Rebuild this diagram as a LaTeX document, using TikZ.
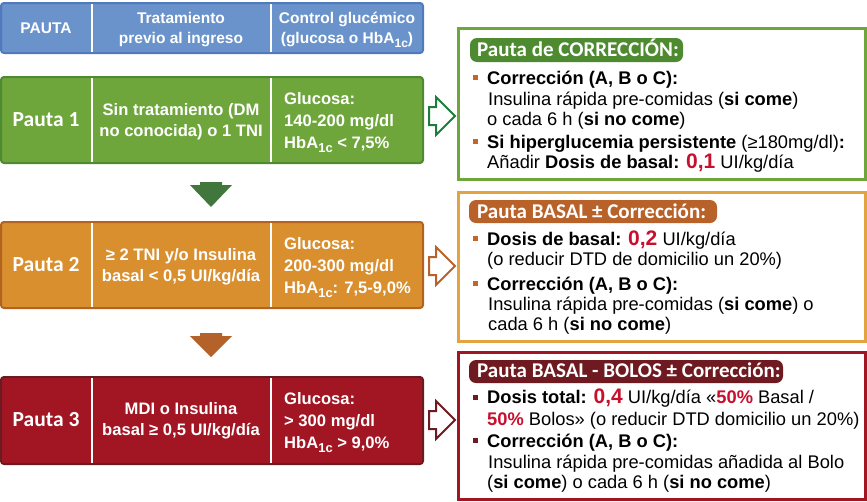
\documentclass[tikz,border=0pt]{standalone}
\usepackage{fontspec}
\usepackage{graphicx}
\setmainfont{Liberation Sans}
\newfontfamily\calfont{Carlito}
\definecolor{hdrfill}{HTML}{6A93CB}
\definecolor{hdrline}{HTML}{4F7BBE}
\definecolor{gfill}{HTML}{6EA63C}
\definecolor{gline}{HTML}{4E8A30}
\definecolor{ofill}{HTML}{D98F2E}
\definecolor{oline}{HTML}{B3631F}
\definecolor{rfill}{HTML}{A21523}
\definecolor{rline}{HTML}{6B1A1F}
\definecolor{garr}{HTML}{41773C}
\definecolor{oarr}{HTML}{B4612A}
\definecolor{ghol}{HTML}{1D7D3C}
\definecolor{ohol}{HTML}{B8622A}
\definecolor{rhol}{HTML}{6E1A20}
\definecolor{rb2}{HTML}{E2A43F}
\definecolor{pillg}{HTML}{4E8A30}
\definecolor{pillo}{HTML}{B8622A}
\definecolor{pillr}{HTML}{6E1A20}
\definecolor{bulo}{HTML}{C4652A}
\definecolor{bulr}{HTML}{6E1A20}
\definecolor{numred}{HTML}{C8102E}
\newcommand{\sbs}[1]{\raisebox{-0.3em}{\scalebox{0.78}{#1}}}
\newcommand{\rd}[1]{\textcolor{numred}{\textbf{#1}}}
\newcommand{\bignum}[1]{{\fontsize{21}{21}\selectfont\bfseries\textcolor{numred}{#1}}}
\begin{document}
\begin{tikzpicture}[x=1pt,y=-1pt,
  lbox/.style={line width=2pt, rounded corners=3pt, anchor=north west, minimum width=422pt, inner sep=0pt, outer sep=0pt},
  rbox/.style={line width=3pt, anchor=north west, minimum width=407pt, inner sep=0pt, outer sep=0pt, fill=white},
  divider/.style={white, line width=2pt},
  hd/.style={text=white, font=\bfseries\fontsize{15.5}{17}\selectfont, anchor=base, inner sep=0pt},
  pa/.style={text=white, font=\calfont\bfseries\fontsize{21.5}{23}\selectfont, anchor=base, inner sep=0pt},
  lt/.style={text=white, font=\bfseries\fontsize{16.6}{18}\selectfont, anchor=base, inner sep=0pt},
  ltl/.style={lt, anchor=base west},
  ttl/.style={text=white, font=\calfont\bfseries\fontsize{21}{23}\selectfont, anchor=base west, inner sep=0pt},
  rt/.style={text=black, font=\fontsize{18.3}{20}\selectfont, anchor=base west, inner sep=0pt},
  hollow/.style={fill=white, line width=2pt, line join=miter},
  bul/.style={minimum size=5pt, inner sep=0pt, outer sep=0pt}
]
\useasboundingbox (0,0) rectangle (867,501);

% ---------- header ----------
\node[lbox, fill=hdrfill, draw=hdrline, minimum height=50pt] (hdr) at (1,3) {};
\draw[divider] (92,4) -- (92,52);
\draw[divider] (271,4) -- (271,52);
\node[hd] (h1) at (46,33) {PAUTA};
\node[hd] (h2a) at (181,23) {Tratamiento};
\node[hd] (h2b) at (181,43) {previo al ingreso};
\node[hd] (h3a) at (347,23) {Control glucémico};
\node[hd] (h3b) at (347,43) {(glucosa o HbA\sbs{1c})};

% ---------- Pauta 1 ----------
\node[lbox, fill=gfill, draw=gline, minimum height=86pt] (p1) at (1,77) {};
\draw[divider] (92,78) -- (92,162);
\draw[divider] (271,78) -- (271,162);
\node[pa] (p1a) at (46,126) {Pauta 1};
\node[lt] (p1b) at (181,115) {Sin tratamiento (DM};
\node[lt] (p1c) at (181,136) {no conocida) o 1 TNI};
\node[ltl] (p1d) at (284,104) {Glucosa:};
\node[ltl] (p1e) at (284,126) {140-200 mg/dl};
\node[ltl] (p1f) at (284,148) {HbA\sbs{1c} < 7,5\%};

% ---------- down arrow 1 ----------
\fill[garr] (200,182) -- (222,182) -- (222,185) -- (232,185) -- (211,207) -- (190,185) -- (200,185) -- cycle;

% ---------- Pauta 2 ----------
\node[lbox, fill=ofill, draw=oline, minimum height=86pt] (p2) at (1,222) {};
\draw[divider] (92,223) -- (92,307);
\draw[divider] (271,223) -- (271,307);
\node[pa] (p2a) at (46,271) {Pauta 2};
\node[lt] (p2b) at (181,260) {≥ 2 TNI y/o Insulina};
\node[lt] (p2c) at (181,281) {basal < 0,5 UI/kg/día};
\node[ltl] (p2d) at (284,249) {Glucosa:};
\node[ltl] (p2e) at (284,271) {200-300 mg/dl};
\node[ltl] (p2f) at (284,293) {HbA\sbs{1c}: 7,5-9,0\%};

% ---------- down arrow 2 ----------
\fill[oarr] (200,333) -- (222,333) -- (222,336) -- (232,336) -- (211,357) -- (190,336) -- (200,336) -- cycle;

% ---------- Pauta 3 ----------
\node[lbox, fill=rfill, draw=rline, minimum height=87pt] (p3) at (1,377) {};
\draw[divider] (92,378) -- (92,463);
\draw[divider] (271,378) -- (271,463);
\node[pa] (p3a) at (46,426) {Pauta 3};
\node[lt] (p3b) at (181,414) {MDI o Insulina};
\node[lt] (p3c) at (181,435) {basal ≥ 0,5 UI/kg/día};
\node[ltl] (p3d) at (284,404) {Glucosa:};
\node[ltl] (p3e) at (284,426) {> 300 mg/dl};
\node[ltl] (p3f) at (284,448) {HbA\sbs{1c} > 9,0\%};

% ---------- hollow arrows ----------
\draw[hollow, draw=ghol] (429,107) -- (436,107) -- (436,97) -- (455,116) -- (436,135) -- (436,125) -- (429,125) -- cycle;
\draw[hollow, draw=ohol] (429,257) -- (436,257) -- (436,247) -- (455,266) -- (436,285) -- (436,275) -- (429,275) -- cycle;
\draw[hollow, draw=rhol] (429,411) -- (436,411) -- (436,401) -- (455,420) -- (436,439) -- (436,429) -- (429,429) -- cycle;

% ---------- right box 1 ----------
\node[rbox, draw=gfill, minimum height=151pt] (r1) at (458,28) {};
\fill[pillg, rounded corners=7pt] (470,38) rectangle (683,62);
\node[ttl] (t1) at (477,56) {Pauta de CORRECCIÓN:};
\node[bul, fill=bulo] (b11) at (475.5,77) {};
\node[rt] (r1a) at (487,84) {\textbf{Corrección (A, B o C):}};
\node[rt] (r1b) at (488,105) {Insulina rápida pre-comidas (\textbf{si come})};
\node[rt] (r1c) at (487,125) {o cada 6 h (\textbf{si no come})};
\node[bul, fill=bulo] (b12) at (475.5,141) {};
\node[rt] (r1d) at (487,148) {\textbf{Si hiperglucemia persistente} (≥180mg/dl)\textbf{:}};
\node[rt] (r1e) at (487,168) {Añadir \textbf{Dosis de basal:} \bignum{0,1} UI/kg/día};

% ---------- right box 2 ----------
\node[rbox, draw=rb2, minimum height=149pt] (r2) at (458,192) {};
\fill[pillo, rounded corners=7pt] (469,200) rectangle (717,223);
\node[ttl] (t2) at (477,218) {Pauta BASAL ± Corrección:};
\node[bul, fill=bulo] (b21) at (475.5,238) {};
\node[rt] (r2a) at (487,245) {\textbf{Dosis de basal:} \bignum{0,2} UI/kg/día};
\node[rt] (r2b) at (487,265) {(o reducir DTD de domicilio un 20\%)};
\node[bul, fill=bulo] (b22) at (475.5,283) {};
\node[rt] (r2c) at (487,290) {\textbf{Corrección (A, B o C):}};
\node[rt] (r2d) at (488,310) {Insulina rápida pre-comidas (\textbf{si come}) o};
\node[rt] (r2e) at (488,330) {cada 6 h (\textbf{si no come})};

% ---------- right box 3 ----------
\node[rbox, draw=rfill, minimum height=147pt] (r3) at (458,352) {};
\fill[pillr, rounded corners=7pt] (469,360) rectangle (783,383);
\node[ttl] (t3) at (477,377) {Pauta BASAL - BOLOS ± Corrección:};
\node[bul, fill=bulr] (b31) at (475.5,397) {};
\node[rt] (r3a) at (487,403) {\textbf{Dosis total:} \bignum{0,4} UI/kg/día «\rd{50\%} Basal /};
\node[rt] (r3b) at (487,425) {\rd{50\%} Bolos» (o reducir DTD domicilio un 20\%)};
\node[bul, fill=bulr] (b32) at (475.5,440) {};
\node[rt] (r3c) at (487,447) {\textbf{Corrección (A, B o C):}};
\node[rt] (r3d) at (488,468) {Insulina rápida pre-comidas añadida al Bolo};
\node[rt] (r3e) at (487,488) {(\textbf{si come}) o cada 6 h (\textbf{si no come})};
\end{tikzpicture}
\end{document}
